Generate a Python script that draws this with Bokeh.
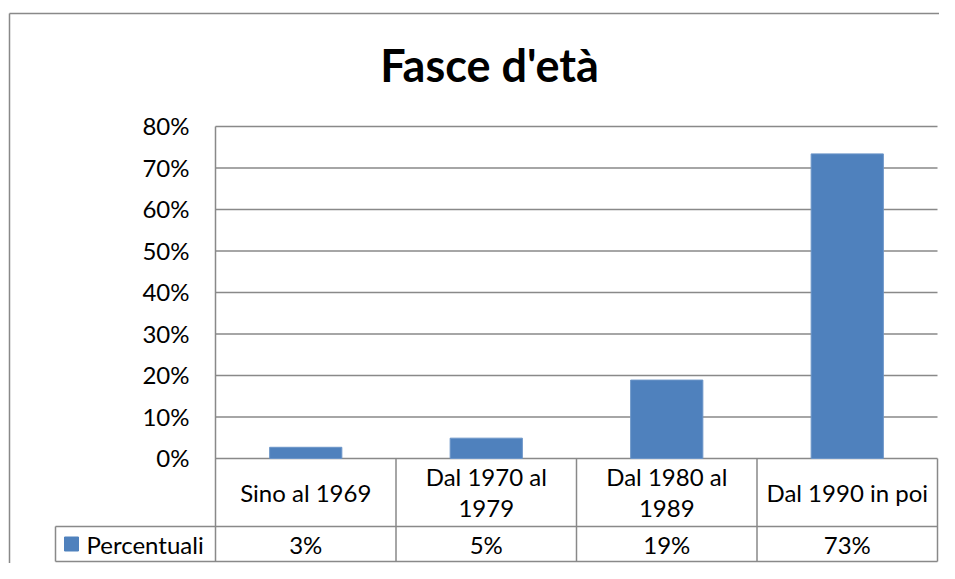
from bokeh.plotting import figure
from bokeh.models import Range1d
from bokeh.core.properties import value
from bokeh.embed import file_html
from bokeh.resources import INLINE

# ---- data ----
title = "Fasce d'età"
series_name = "Percentuali"
categories = ["Sino al 1969", "Dal 1970 al\n1979", "Dal 1980 al\n1989", "Dal 1990 in poi"]
values = [2.7, 4.9, 18.9, 73.4]
value_labels = ["3%", "5%", "19%", "73%"]
y_ticks = [0, 10, 20, 30, 40, 50, 60, 70, 80]
y_tick_labels = [f"{t}%" for t in y_ticks]

# ---- layout (pixels) ----
W, H = 939, 563
PX_X = 180.5    # pixels per category
PX_Y = 4.15     # pixels per percentage point
X0 = 215        # canvas x of the category axis start
Y0 = 458        # canvas y of 0%

def dx(px):
    return px / PX_X

def dy(px):
    return px / PX_Y

FONT = "Lato"
GRID = "#898989"
BAR = "#4F81BD"

p = figure(width=W, height=H, output_backend="svg", toolbar_location=None,
           x_range=Range1d(-dx(X0), dx(W - X0)),
           y_range=Range1d(-dy(H - Y0), dy(Y0)),
           x_axis_location=None, y_axis_location=None,
           min_border=0, min_border_left=0, min_border_right=0,
           min_border_top=0, min_border_bottom=0)
p.grid.visible = False
p.outline_line_color = None
p.background_fill_color = "white"
p.border_fill_color = "white"

n = len(categories)
header_bottom = -dy(68)
table_bottom = -dy(103)
legend_left = -dx(160)

# outer chart border (left and top edges visible)
outer_left = -dx(X0 - 9)
outer_top = dy(Y0 - 13)
p.segment(x0=[outer_left, outer_left], y0=[outer_top, outer_top],
          x1=[outer_left, dx(W - X0)], y1=[-dy(H - Y0), outer_top],
          line_color=GRID, line_width=1.5)

# horizontal gridlines
p.segment(x0=[0] * len(y_ticks), y0=y_ticks, x1=[n] * len(y_ticks), y1=y_ticks,
          line_color=GRID, line_width=1.5)

# vertical lines: value axis line and table column separators
vx = list(range(n + 1))
vtop = [y_ticks[-1]] + [0] * n
p.segment(x0=vx, y0=vtop, x1=vx, y1=[table_bottom] * (n + 1),
          line_color=GRID, line_width=1.5)

# table horizontal lines + legend cell left edge
p.segment(x0=[legend_left, legend_left, legend_left],
          y0=[header_bottom, table_bottom, header_bottom],
          x1=[n, n, legend_left],
          y1=[header_bottom, table_bottom, table_bottom],
          line_color=GRID, line_width=1.5)

# bars
p.vbar(x=[i + 0.5 for i in range(n)], top=values, bottom=0, width=0.4,
       fill_color=BAR, line_color="#6C95C8", line_width=1)

TXT = dict(text_font=value(FONT), text_font_size="24px", text_color="black",
           text_baseline="middle")

# y tick labels
p.text(x=[0] * len(y_ticks), y=y_ticks, text=y_tick_labels,
       x_offset=-26, y_offset=-1, text_align="right", **TXT)

# header row: category names
hx, hy, ht, hoff = [], [], [], []
line_gap = 32
for i, c in enumerate(categories):
    lines = c.split("\n")
    k = len(lines)
    for j, ln in enumerate(lines):
        hx.append(i + 0.5)
        hy.append(header_bottom / 2)
        ht.append(ln)
        hoff.append((j - (k - 1) / 2) * line_gap)
p.text(x=hx, y=hy, text=ht, y_offset=hoff, text_align="center", **TXT)

# value row
vrow = (header_bottom + table_bottom) / 2
p.text(x=[i + 0.5 for i in range(n)], y=[vrow] * n, text=value_labels,
       text_align="center", **TXT)

# legend key + series name
p.scatter(x=[legend_left + dx(16)], y=[vrow], marker="square", size=14,
          fill_color=BAR, line_color=BAR)
p.text(x=[legend_left + dx(31)], y=[vrow], text=[series_name],
       text_align="left", **TXT)

# title
p.text(x=[dx(489 - X0)], y=[dy(Y0 - 64)], text=[title], text_align="center",
       text_baseline="middle", text_font=value(FONT), text_font_size="45px",
       text_font_style="bold", text_color="black")

open("out.html", "w").write(file_html(p, INLINE))
